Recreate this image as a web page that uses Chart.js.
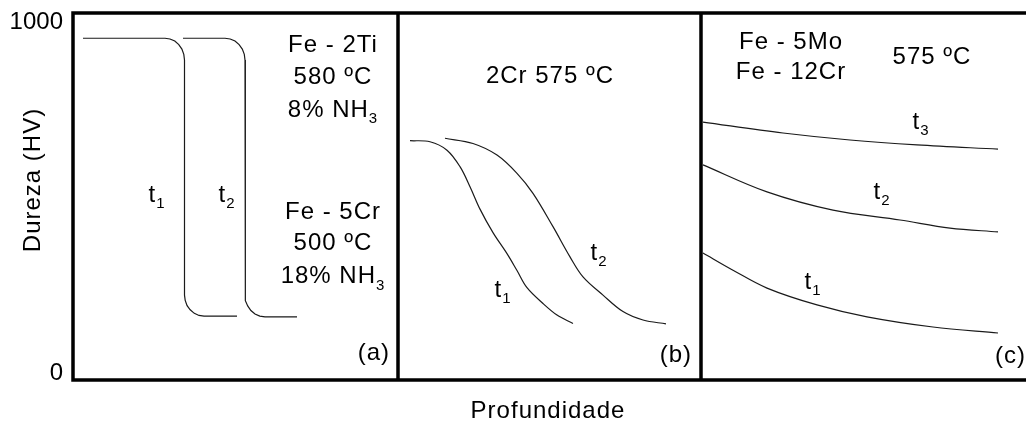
<!DOCTYPE html>
<html>
<head>
<meta charset="utf-8">
<script src="https://cdn.jsdelivr.net/npm/chart.js@4"></script>
<style>
  html, body { margin: 0; padding: 0; background: #fff; overflow: hidden; }
  #wrap { width: 1026px; height: 423px; }
</style>
</head>
<body>
<div id="wrap"><canvas id="chart"></canvas></div>
<script>
// Hardness profiles (depth in arbitrary units, hardness in HV)
const yTicks = [0, 1000];
const panelEdges = [32.5, 62.8];

// (a) Fe-2Ti / Fe-5Cr : sharp case/core step
const aT1 = [[1.0, 954], [9.2, 954], [9.7, 952], [10.18, 946], [10.58, 936], [10.89, 923], [11.08, 908], [11.15, 892],
             [11.15, 222], [11.22, 207], [11.41, 192], [11.72, 180], [12.13, 170], [12.6, 164], [13.1, 162], [16.4, 162]];
const aT2 = [[11.0, 954], [15.2, 954], [15.72, 952], [16.2, 946], [16.61, 936], [16.93, 923], [17.13, 908], [17.2, 892],
             [17.2, 222], [17.27, 206], [17.47, 191], [17.79, 178], [18.2, 168], [18.68, 162], [19.2, 160], [22.4, 160]];

// (b) 2Cr 575 ºC : sigmoidal drop
const bT1 = [[33.7, 662], [35.7, 659], [37.4, 635], [38.7, 588], [39.7, 531], [40.7, 467], [42.0, 400], [43.4, 340],
             [44.4, 292], [45.4, 243], [47.0, 198], [48.4, 165], [50.0, 141]];
const bT2 = [[37.2, 669], [40.0, 654], [42.4, 621], [44.4, 569], [46.0, 512], [48.0, 417], [49.7, 331], [51.0, 274],
             [53.0, 222], [55.0, 175], [57.0, 151], [59.3, 140]];

// (c) Fe-5Mo / Fe-12Cr 575 ºC : gradual decline
const cT1 = [[63.0, 342], [66.0, 293], [69.4, 242], [74.4, 194], [79.4, 160], [86.0, 131], [92.5, 114]];
const cT2 = [[63.0, 593], [69.4, 516], [76.0, 464], [82.7, 436], [87.7, 413], [92.5, 402]];
const cT3 = [[63.0, 715], [71.0, 684], [77.7, 664], [84.4, 650], [92.5, 638]];

// text annotations: [main, subscript, x, y, align]
const notes = [
  ['Fe - 2Ti', '', 26.0, 934, 'center'],
  ['580 ºC', '', 26.0, 843, 'center'],
  ['8% NH', '3', 26.0, 749, 'center'],
  ['Fe - 5Cr', '', 26.0, 459, 'center'],
  ['500 ºC', '', 26.0, 370, 'center'],
  ['18% NH', '3', 26.0, 274, 'center'],
  ['t', '1', 8.4, 507, 'center'],
  ['t', '2', 15.4, 507, 'center'],
  ['(a)', '', 31.7, 57, 'right'],
  ['2Cr 575 ºC', '', 47.7, 846, 'center'],
  ['t', '1', 43.0, 236, 'center'],
  ['t', '2', 52.6, 342, 'center'],
  ['(b)', '', 61.9, 51, 'right'],
  ['Fe - 5Mo', '', 71.8, 943, 'center'],
  ['Fe - 12Cr', '', 71.8, 858, 'center'],
  ['575 ºC', '', 85.9, 900, 'center'],
  ['t', '3', 84.8, 715, 'center'],
  ['t', '2', 80.9, 516, 'center'],
  ['t', '1', 74.0, 259, 'center'],
  ['(c)', '', 95.3, 46, 'right']
];

const FONT = '"Liberation Sans", Arial, sans-serif';

function toPoints(pairs) {
  return pairs.map(p => ({ x: p[0], y: p[1] }));
}

function curve(pairs, tension) {
  return {
    data: toPoints(pairs),
    borderColor: '#1a1a1a',
    borderWidth: 1.2,
    pointRadius: 0,
    fill: false,
    tension: tension
  };
}

function drawText(ctx, main, sub, x, y, align) {
  ctx.font = '24px ' + FONT;
  const w1 = ctx.measureText(main).width;
  ctx.font = '15px ' + FONT;
  const w2 = sub ? ctx.measureText(sub).width : 0;
  const total = w1 + w2;
  let start = x - total / 2;
  if (align === 'right') start = x - total;
  if (align === 'left') start = x;
  ctx.textAlign = 'left';
  ctx.textBaseline = 'middle';
  ctx.font = '24px ' + FONT;
  ctx.fillText(main, start, y);
  if (sub) {
    ctx.font = '15px ' + FONT;
    ctx.fillText(sub, start + w1, y + 9);
  }
}

const framePlugin = {
  id: 'frame',
  afterDatasetsDraw(chart) {
    const ctx = chart.ctx;
    const area = chart.chartArea;
    const xs = chart.scales.x;
    const ys = chart.scales.y;
    ctx.save();
    ctx.strokeStyle = '#000';
    ctx.lineWidth = 3.5;
    ctx.beginPath();
    ctx.moveTo(chart.width + 5, area.top);
    ctx.lineTo(area.left, area.top);
    ctx.lineTo(area.left, area.bottom);
    ctx.lineTo(chart.width + 5, area.bottom);
    panelEdges.forEach(v => {
      const px = xs.getPixelForValue(v);
      ctx.moveTo(px, area.top);
      ctx.lineTo(px, area.bottom);
    });
    ctx.stroke();

    ctx.fillStyle = '#000';
    ctx.letterSpacing = '1px';
    notes.forEach(n => {
      drawText(ctx, n[0], n[1], xs.getPixelForValue(n[2]), ys.getPixelForValue(n[3]), n[4]);
    });

    // axis titles
    ctx.font = '24px ' + FONT;
    ctx.textAlign = 'center';
    ctx.textBaseline = 'middle';
    ctx.fillText('Profundidade', xs.getPixelForValue(47.5), area.bottom + 31);
    ctx.translate(33, ys.getPixelForValue(550));
    ctx.rotate(-Math.PI / 2);
    ctx.fillText('Dureza (HV)', 0, 0);
    ctx.restore();
  }
};

new Chart(document.getElementById('chart'), {
  type: 'line',
  data: {
    datasets: [
      curve(aT1, 0), curve(aT2, 0),
      curve(bT1, 0.35), curve(bT2, 0.35),
      curve(cT1, 0.35), curve(cT2, 0.35), curve(cT3, 0.35)
    ]
  },
  options: {
    responsive: true,
    maintainAspectRatio: false,
    animation: false,
    layout: { padding: { top: 13, right: 0, left: 0, bottom: 0 } },
    plugins: { legend: { display: false }, tooltip: { enabled: false } },
    scales: {
      x: {
        type: 'linear',
        min: 0,
        max: 95.3,
        grid: { display: false, drawTicks: false },
        border: { display: false },
        ticks: { display: false },
        afterFit: s => {
          s.height = 43;
          s.paddingLeft = 0; s.paddingRight = 0;
        }
      },
      y: {
        type: 'linear',
        min: -20,
        max: 1026,
        grid: { display: false, drawTicks: false },
        border: { display: false },
        afterBuildTicks: s => { s.ticks = yTicks.map(v => ({ value: v })); },
        ticks: {
          color: '#000',
          padding: 10,
          font: { family: FONT, size: 24 },
          callback: v => String(v)
        },
        afterFit: s => {
          s.width = 73;
          s.paddingTop = 0; s.paddingBottom = 0;
        }
      }
    }
  },
  plugins: [framePlugin]
});
</script>
</body>
</html>
